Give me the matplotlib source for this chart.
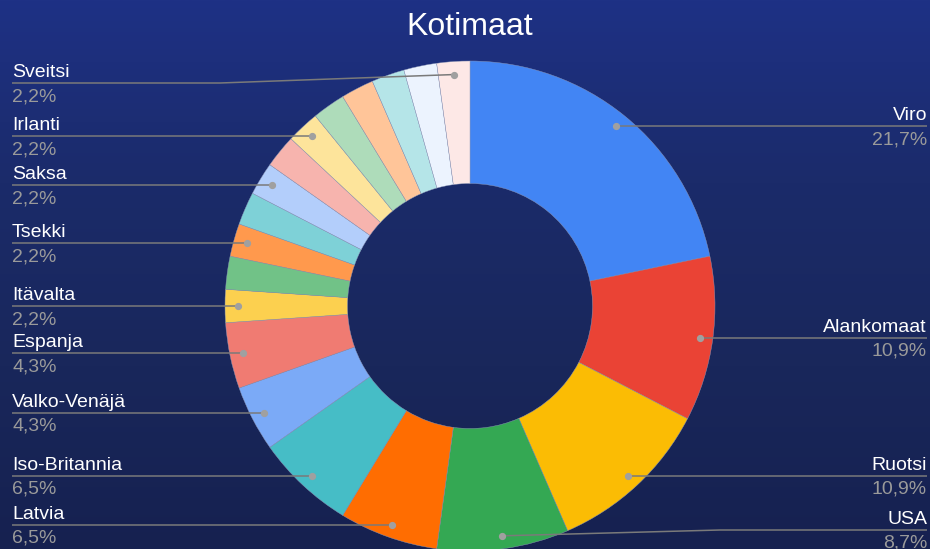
"""Kotimaat donut chart (Google Sheets style) recreated with matplotlib."""

import matplotlib
matplotlib.use("Agg")
import matplotlib.pyplot as plt
import numpy as np
from matplotlib.colors import LinearSegmentedColormap

# --- data -----------------------------------------------------------------
# clockwise from 12 o'clock; empty name = slice drawn without a label
COUNTRIES = ["Viro", "Alankomaat", "Ruotsi", "USA", "Latvia", "Iso-Britannia",
             "Valko-Venäjä", "Espanja", "Itävalta", "", "Tsekki", "", "Saksa",
             "", "Irlanti", "", "", "", "", "Sveitsi"]
COUNTS = [10, 5, 5, 4, 3, 3, 2, 2, 1, 1, 1, 1, 1, 1, 1, 1, 1, 1, 1, 1]
TITLE = "Kotimaat"

COLORS = ["#4285F4", "#EA4335", "#FBBC04", "#34A853", "#FF6D01", "#46BDC6",
          "#7BAAF7", "#F07B72", "#FCD04F", "#71C287", "#FF994D", "#7ED1D7",
          "#B3CEFB", "#F7B4AE", "#FDE49B", "#AEDCBA", "#FFC599", "#B5E5E8",
          "#ECF3FE", "#FDE8E6"]

# --- layout (pixel units, y measured from the top) --------------------------
W, H = 930, 549
CX, CY = 470, 306
R_OUT, R_IN = 245, 122.5
R_DOT = 232
LEFT_X, RIGHT_X = 12, 927
LABEL_Y_MIN, LABEL_Y_MAX = 83, 530
ELBOW = 250

FONT = ["Liberation Sans", "DejaVu Sans"]
plt.rcParams["font.family"] = FONT


def fy(y):
    """Pixel y (from top) -> data y (from bottom)."""
    return H - y


fig = plt.figure(figsize=(W / 100, H / 100), dpi=100)
ax = fig.add_axes([0, 0, 1, 1])

# background gradient
bg = LinearSegmentedColormap.from_list(
    "bg", ["#1e3185", "#1b2b6a", "#19275b", "#162150"])
grad = np.linspace(0, 1, 256).reshape(-1, 1)
ax.imshow(grad, cmap=bg, extent=[0, W, 0, H], aspect="auto", zorder=0)

wedges, _ = ax.pie(
    COUNTS, colors=COLORS, startangle=90, counterclock=False,
    radius=R_OUT, center=(CX, fy(CY)),
    wedgeprops=dict(width=R_OUT - R_IN, edgecolor="#8d98b8", linewidth=0.3),
)
for w in wedges:
    w.set_zorder(2)

total = sum(COUNTS)
cum = 0
for name, n in zip(COUNTRIES, COUNTS):
    mid = (cum + n / 2) / total * 2 * np.pi  # clockwise from top
    cum += n
    if not name:
        continue
    dx, dy = np.sin(mid), np.cos(mid)
    dot_x, dot_y = CX + R_DOT * dx, CY - R_DOT * dy
    ly = min(max(dot_y, LABEL_Y_MIN), LABEL_Y_MAX)
    right = dx > 0
    elbow_x = CX + ELBOW if right else CX - ELBOW
    end_x = RIGHT_X if right else LEFT_X
    ax.plot([dot_x, elbow_x, end_x], [fy(dot_y), fy(ly), fy(ly)],
            color="#7a7a7a", linewidth=1.1, zorder=3, solid_capstyle="butt")
    ax.plot(dot_x, fy(dot_y), "o", color="#a0a0a0", markersize=4.2, zorder=4)
    ha = "right" if right else "left"
    pct = f"{n / total * 100:.1f}%".replace(".", ",")
    ax.text(end_x, fy(ly - 6), name, ha=ha, va="baseline",
            fontsize=14, color="#ffffff", zorder=5)
    ax.text(end_x, fy(ly + 18), pct, ha=ha, va="baseline",
            fontsize=14, color="#9a9a9a", zorder=5)

ax.text(CX, fy(35), TITLE, ha="center", va="baseline",
        fontsize=23, color="#ffffff")

ax.set_xlim(0, W)
ax.set_ylim(0, H)
ax.set_aspect("auto")
ax.axis("off")

fig.savefig("out.png", dpi=100)
